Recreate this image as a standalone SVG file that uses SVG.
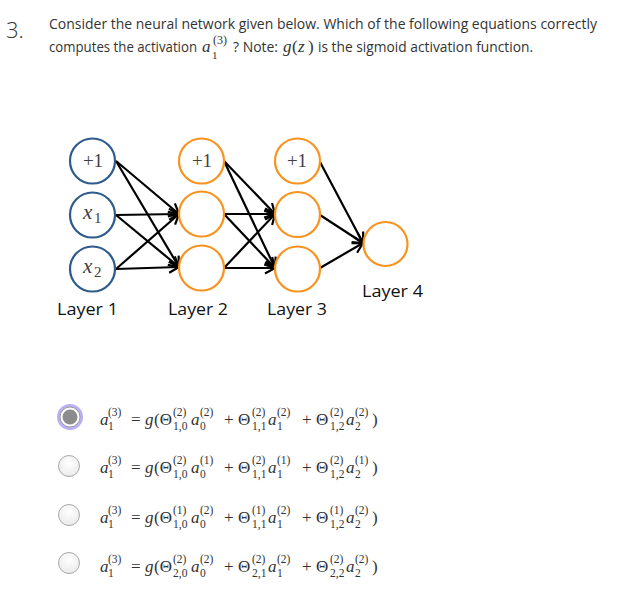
<svg xmlns="http://www.w3.org/2000/svg" width="637" height="606" viewBox="0 0 637 606">
<style>
  .t { font-family: "Open Sans", "Liberation Sans", sans-serif; font-size: 14px; fill: #333; }
  .m { font-family: "Liberation Serif", "DejaVu Serif", serif; fill: #333; }
  .mi { font-style: italic; }
  .big { font-size: 17px; }
  .sm { font-size: 11.5px; }
  .lbl { font-family: "Open Sans", "Liberation Sans", sans-serif; font-size: 17px; fill: #111; }
  .n1 { fill: #fff; stroke: #2E5A8C; stroke-width: 2.2; }
  .n2 { fill: #fff; stroke: #F7931E; stroke-width: 2.2; }
  .nt { font-family: "Liberation Serif", "DejaVu Serif", serif; font-size: 19px; fill: #404040; }
  .e { stroke: #000; stroke-width: 2.2; fill: none; marker-end: url(#ah); }
  .rb { fill: url(#rg); stroke: #a8a8a8; stroke-width: 1; }
</style>
<defs>
  <marker id="ah" markerUnits="userSpaceOnUse" markerWidth="14" markerHeight="14" refX="11" refY="7" orient="auto">
    <path d="M1,1.5 L11,7 L1,12.5" fill="none" stroke="#000" stroke-width="2.2"/>
  </marker>
  <radialGradient id="rg" cx="0.5" cy="0.35" r="0.6">
    <stop offset="0" stop-color="#ffffff"/>
    <stop offset="1" stop-color="#ececec"/>
  </radialGradient>
</defs>
<rect width="637" height="606" fill="#fff"/>

<g id="question">
  <text x="6" y="38" font-family="Open Sans, Liberation Sans, sans-serif" font-size="22" font-weight="300" fill="#333">3.</text>
  <text class="t" x="49" y="29" textLength="548" lengthAdjust="spacingAndGlyphs">Consider the neural network given below. Which of the following equations correctly</text>
  <text class="t" x="49" y="52" textLength="148" lengthAdjust="spacingAndGlyphs">computes the activation</text>
  <text class="m"><tspan class="mi" x="202" y="52" font-size="17">a</tspan><tspan x="213" y="44" font-size="12">(3)</tspan><tspan x="212" y="59" font-size="11">1</tspan></text>
  <text class="t" x="233" y="52" textLength="45" lengthAdjust="spacingAndGlyphs">? Note:</text>
  <text class="m" font-size="17"><tspan class="mi" x="283" y="52">g</tspan><tspan x="292" y="52">(</tspan><tspan class="mi" x="298" y="52">z</tspan><tspan x="308" y="52">)</tspan></text>
  <text class="t" x="318" y="52" textLength="215" lengthAdjust="spacingAndGlyphs">is the sigmoid activation function.</text>
</g>

<g id="connectors">
  <line class="e" x1="116" y1="161" x2="179" y2="214"/>
  <line class="e" x1="116" y1="161" x2="179" y2="267"/>
  <line class="e" x1="116" y1="215" x2="179" y2="214"/>
  <line class="e" x1="116" y1="215" x2="179" y2="267"/>
  <line class="e" x1="116" y1="269" x2="179" y2="214"/>
  <line class="e" x1="116" y1="269" x2="179" y2="267"/>
  <line class="e" x1="224" y1="161" x2="275" y2="214"/>
  <line class="e" x1="224" y1="161" x2="275" y2="268"/>
  <line class="e" x1="224" y1="214" x2="275" y2="214"/>
  <line class="e" x1="224" y1="214" x2="275" y2="268"/>
  <line class="e" x1="224" y1="268" x2="275" y2="214"/>
  <line class="e" x1="224" y1="268" x2="275" y2="268"/>
  <line class="e" x1="320" y1="162" x2="363" y2="243"/>
  <line class="e" x1="320" y1="215" x2="363" y2="243"/>
  <line class="e" x1="320" y1="268" x2="363" y2="243"/>
</g>

<g id="l1-bias"><circle class="n1" cx="92.5" cy="161" r="22.5"/><text class="nt" x="93" y="167" text-anchor="middle">+1</text></g>
<g id="l1-x1"><circle class="n1" cx="92.5" cy="215" r="22.5"/><text class="nt"><tspan font-style="italic" font-size="21" x="83" y="219">x</tspan><tspan x="94" y="223" font-size="15">1</tspan></text></g>
<g id="l1-x2"><circle class="n1" cx="92.5" cy="269" r="22.5"/><text class="nt"><tspan font-style="italic" font-size="21" x="83" y="273">x</tspan><tspan x="94" y="277" font-size="15">2</tspan></text></g>

<g id="l2-bias"><circle class="n2" cx="201.5" cy="161" r="22.5"/><text class="nt" x="202" y="167" text-anchor="middle">+1</text></g>
<g id="l2-a1"><circle class="n2" cx="201.5" cy="214" r="22.5"/></g>
<g id="l2-a2"><circle class="n2" cx="201.5" cy="268" r="22.5"/></g>

<g id="l3-bias"><circle class="n2" cx="297.5" cy="161" r="22.5"/><text class="nt" x="297" y="167" text-anchor="middle">+1</text></g>
<g id="l3-a1"><circle class="n2" cx="297.5" cy="214.5" r="22.5"/></g>
<g id="l3-a2"><circle class="n2" cx="297.5" cy="269" r="22.5"/></g>

<g id="l4-out"><circle class="n2" cx="385.5" cy="244" r="22"/></g>

<g id="layer-labels">
  <text class="lbl" x="57" y="315" textLength="61" lengthAdjust="spacingAndGlyphs">Layer 1</text>
  <text class="lbl" x="168" y="315" textLength="60" lengthAdjust="spacingAndGlyphs">Layer 2</text>
  <text class="lbl" x="267" y="315" textLength="60" lengthAdjust="spacingAndGlyphs">Layer 3</text>
  <text class="lbl" x="362" y="297" textLength="61" lengthAdjust="spacingAndGlyphs">Layer 4</text>
</g>

<g id="option-1">
  <circle cx="70" cy="417" r="11.5" fill="none" stroke="#a99cf0" stroke-width="3" opacity="0.8"/>
  <circle cx="70" cy="417" r="10" fill="#fff" stroke="#9a9a9a" stroke-width="1"/>
  <circle cx="70" cy="417" r="7.5" fill="#8c8c8c"/>
  <text class="m">
    <tspan class="mi big" x="100" y="425">a</tspan><tspan class="sm" x="108" y="416">(3)</tspan><tspan class="sm" x="108" y="430">1</tspan>
    <tspan class="big" x="131" y="425">=</tspan><tspan class="mi big" x="145" y="425">g</tspan><tspan class="big" x="154" y="425">(Θ</tspan><tspan class="sm" x="173" y="416">(2)</tspan><tspan class="sm" x="173" y="430">1,0</tspan>
    <tspan class="mi big" x="191" y="425">a</tspan><tspan class="sm" x="200" y="416">(2)</tspan><tspan class="sm" x="200" y="430">0</tspan>
    <tspan class="big" x="224" y="425">+</tspan><tspan class="big" x="238" y="425">Θ</tspan><tspan class="sm" x="252" y="416">(2)</tspan><tspan class="sm" x="252" y="430">1,1</tspan>
    <tspan class="mi big" x="268" y="425">a</tspan><tspan class="sm" x="277" y="416">(2)</tspan><tspan class="sm" x="277" y="430">1</tspan>
    <tspan class="big" x="302" y="425">+</tspan><tspan class="big" x="316" y="425">Θ</tspan><tspan class="sm" x="330" y="416">(2)</tspan><tspan class="sm" x="330" y="430">1,2</tspan>
    <tspan class="mi big" x="346" y="425">a</tspan><tspan class="sm" x="355" y="416">(2)</tspan><tspan class="sm" x="355" y="430">2</tspan><tspan class="big" x="372" y="425">)</tspan>
  </text>
</g>

<g id="option-2">
  <circle class="rb" cx="69" cy="466" r="10.5"/>
  <text class="m">
    <tspan class="mi big" x="100" y="473">a</tspan><tspan class="sm" x="108" y="464">(3)</tspan><tspan class="sm" x="108" y="478">1</tspan>
    <tspan class="big" x="131" y="473">=</tspan><tspan class="mi big" x="145" y="473">g</tspan><tspan class="big" x="154" y="473">(Θ</tspan><tspan class="sm" x="173" y="464">(2)</tspan><tspan class="sm" x="173" y="478">1,0</tspan>
    <tspan class="mi big" x="191" y="473">a</tspan><tspan class="sm" x="200" y="464">(1)</tspan><tspan class="sm" x="200" y="478">0</tspan>
    <tspan class="big" x="224" y="473">+</tspan><tspan class="big" x="238" y="473">Θ</tspan><tspan class="sm" x="252" y="464">(2)</tspan><tspan class="sm" x="252" y="478">1,1</tspan>
    <tspan class="mi big" x="268" y="473">a</tspan><tspan class="sm" x="277" y="464">(1)</tspan><tspan class="sm" x="277" y="478">1</tspan>
    <tspan class="big" x="302" y="473">+</tspan><tspan class="big" x="316" y="473">Θ</tspan><tspan class="sm" x="330" y="464">(2)</tspan><tspan class="sm" x="330" y="478">1,2</tspan>
    <tspan class="mi big" x="346" y="473">a</tspan><tspan class="sm" x="355" y="464">(1)</tspan><tspan class="sm" x="355" y="478">2</tspan><tspan class="big" x="372" y="473">)</tspan>
  </text>
</g>

<g id="option-3">
  <circle class="rb" cx="69" cy="515" r="10.5"/>
  <text class="m">
    <tspan class="mi big" x="100" y="523">a</tspan><tspan class="sm" x="108" y="514">(3)</tspan><tspan class="sm" x="108" y="528">1</tspan>
    <tspan class="big" x="131" y="523">=</tspan><tspan class="mi big" x="145" y="523">g</tspan><tspan class="big" x="154" y="523">(Θ</tspan><tspan class="sm" x="173" y="514">(1)</tspan><tspan class="sm" x="173" y="528">1,0</tspan>
    <tspan class="mi big" x="191" y="523">a</tspan><tspan class="sm" x="200" y="514">(2)</tspan><tspan class="sm" x="200" y="528">0</tspan>
    <tspan class="big" x="224" y="523">+</tspan><tspan class="big" x="238" y="523">Θ</tspan><tspan class="sm" x="252" y="514">(1)</tspan><tspan class="sm" x="252" y="528">1,1</tspan>
    <tspan class="mi big" x="268" y="523">a</tspan><tspan class="sm" x="277" y="514">(2)</tspan><tspan class="sm" x="277" y="528">1</tspan>
    <tspan class="big" x="302" y="523">+</tspan><tspan class="big" x="316" y="523">Θ</tspan><tspan class="sm" x="330" y="514">(1)</tspan><tspan class="sm" x="330" y="528">1,2</tspan>
    <tspan class="mi big" x="346" y="523">a</tspan><tspan class="sm" x="355" y="514">(2)</tspan><tspan class="sm" x="355" y="528">2</tspan><tspan class="big" x="372" y="523">)</tspan>
  </text>
</g>

<g id="option-4">
  <circle class="rb" cx="69" cy="563" r="10.5"/>
  <text class="m">
    <tspan class="mi big" x="100" y="572">a</tspan><tspan class="sm" x="108" y="563">(3)</tspan><tspan class="sm" x="108" y="577">1</tspan>
    <tspan class="big" x="131" y="572">=</tspan><tspan class="mi big" x="145" y="572">g</tspan><tspan class="big" x="154" y="572">(Θ</tspan><tspan class="sm" x="173" y="563">(2)</tspan><tspan class="sm" x="173" y="577">2,0</tspan>
    <tspan class="mi big" x="191" y="572">a</tspan><tspan class="sm" x="200" y="563">(2)</tspan><tspan class="sm" x="200" y="577">0</tspan>
    <tspan class="big" x="224" y="572">+</tspan><tspan class="big" x="238" y="572">Θ</tspan><tspan class="sm" x="252" y="563">(2)</tspan><tspan class="sm" x="252" y="577">2,1</tspan>
    <tspan class="mi big" x="268" y="572">a</tspan><tspan class="sm" x="277" y="563">(2)</tspan><tspan class="sm" x="277" y="577">1</tspan>
    <tspan class="big" x="302" y="572">+</tspan><tspan class="big" x="316" y="572">Θ</tspan><tspan class="sm" x="330" y="563">(2)</tspan><tspan class="sm" x="330" y="577">2,2</tspan>
    <tspan class="mi big" x="346" y="572">a</tspan><tspan class="sm" x="355" y="563">(2)</tspan><tspan class="sm" x="355" y="577">2</tspan><tspan class="big" x="372" y="572">)</tspan>
  </text>
</g>
</svg>
